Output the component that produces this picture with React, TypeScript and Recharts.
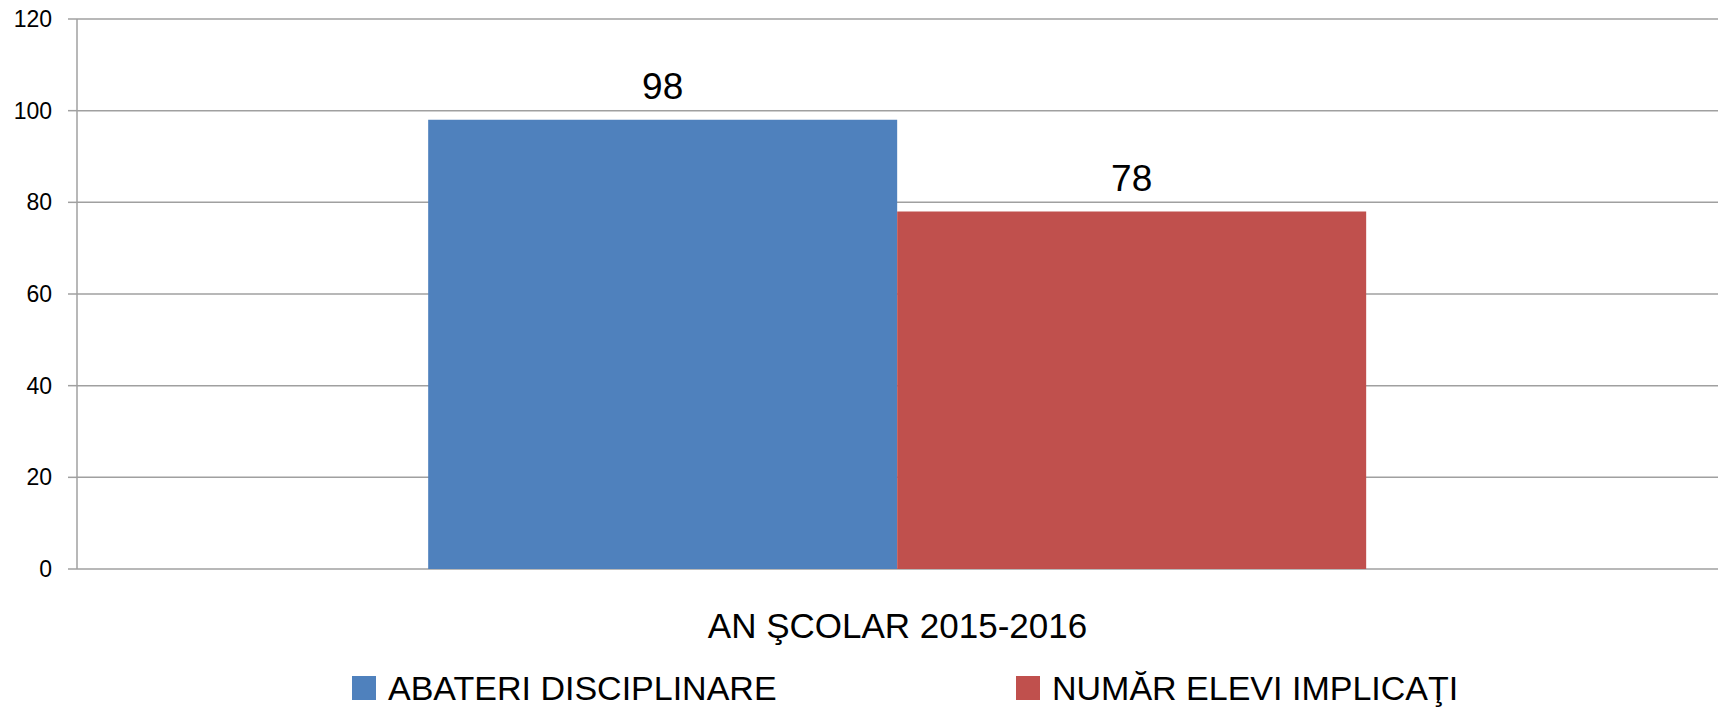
import React from 'react';
import { BarChart, Bar, XAxis, YAxis, CartesianGrid, Legend, LabelList } from 'recharts';

const categories = ['AN ŞCOLAR 2015-2016'];
const abateri = [98];
const elevi = [78];
const yTicks = [0, 20, 40, 60, 80, 100, 120];

const seriesNames = ['ABATERI DISCIPLINARE', 'NUMĂR ELEVI IMPLICAŢI'];
const seriesColors = ['#4F81BD', '#C0504D'];

const data = categories.map((name, i) => ({
  name,
  abateri: abateri[i],
  elevi: elevi[i],
}));

const FONT = '"Liberation Sans", Arial, sans-serif';
const GRID = '#a0a0a0';

const legendLeft = [352, 1016];

const LegendContent = () => (
  <div style={{ position: 'relative', width: 1719, height: 40, fontFamily: FONT }}>
    {seriesNames.map((n, i) => (
      <div
        key={n}
        style={{ position: 'absolute', left: legendLeft[i], top: 0, height: 40, display: 'flex', alignItems: 'center' }}
      >
        <span style={{ display: 'inline-block', width: 24, height: 24, background: seriesColors[i], marginRight: 12 }} />
        <span style={{ fontSize: 34, color: '#000', whiteSpace: 'nowrap' }}>{n}</span>
      </div>
    ))}
  </div>
);

const App: React.FC = () => {
  return (
    <div style={{ position: 'absolute', left: 0, top: 0, width: 1719, height: 708, background: '#fff' }}>
      <BarChart
        width={1719}
        height={708}
        data={data}
        margin={{ top: 19, right: 1, left: 0, bottom: 0 }}
        barCategoryGap="21.4%"
        barGap={0}
      >
        <CartesianGrid vertical={false} stroke={GRID} strokeWidth={1.5} />
        {/* edge ticks at both ends of the category axis */}
        <XAxis
          xAxisId="edge"
          type="number"
          domain={[0, 1]}
          ticks={[0, 1]}
          height={0}
          tickSize={13}
          tick={false}
          tickLine={{ stroke: GRID, strokeWidth: 1.5 }}
          axisLine={{ stroke: GRID, strokeWidth: 1.5 }}
        />
        <XAxis
          dataKey="name"
          height={99}
          tickLine={false}
          axisLine={false}
          tickSize={0}
          tickMargin={44}
          tick={{ fill: '#000', fontSize: 35, fontFamily: FONT }}
        />
        <YAxis
          domain={[0, 120]}
          ticks={yTicks}
          width={77}
          tickSize={9}
          tickMargin={16}
          axisLine={{ stroke: GRID, strokeWidth: 1.5 }}
          tickLine={{ stroke: GRID, strokeWidth: 1.5 }}
          tick={{ fill: '#000', fontSize: 23, fontFamily: FONT }}
        />
        <Legend
          verticalAlign="bottom"
          content={<LegendContent />}
          wrapperStyle={{ left: 0, bottom: 0, width: 1719, height: 40 }}
        />
        <Bar dataKey="abateri" name={seriesNames[0]} fill={seriesColors[0]} isAnimationActive={false}>
          <LabelList dataKey="abateri" position="top" offset={21} fill="#000" fontSize={37} fontFamily={FONT} />
        </Bar>
        <Bar dataKey="elevi" name={seriesNames[1]} fill={seriesColors[1]} isAnimationActive={false}>
          <LabelList dataKey="elevi" position="top" offset={21} fill="#000" fontSize={37} fontFamily={FONT} />
        </Bar>
      </BarChart>
    </div>
  );
};

export default App;
